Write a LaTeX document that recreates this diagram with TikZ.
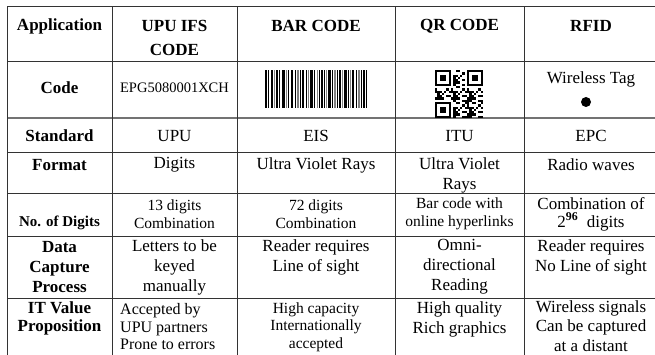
\documentclass[tikz,border=0pt]{standalone}
\usepackage{fontspec}
\setmainfont{Liberation Serif}
\usetikzlibrary{positioning}

\begin{document}
\begin{tikzpicture}[x=1pt, y=-1pt,
    grid/.style={draw=black!80, line width=1pt},
    hd/.style={font=\fontsize{17}{24}\selectfont\bfseries, align=center, inner sep=0pt},
    hdsm/.style={font=\fontsize{15}{18}\selectfont\bfseries, align=center, inner sep=0pt},
    txt/.style={font=\fontsize{17}{20}\selectfont, align=center, inner sep=0pt},
    sml/.style={font=\fontsize{15.5}{17.5}\selectfont, align=center, inner sep=0pt}]
    \useasboundingbox (0,0) rectangle (655,355);

    % table rules
    \foreach \y in {7,62,153,194,236,298} \draw[grid] (7,\y) -- (655,\y);
    \draw[draw=black!55, line width=1.8pt] (7,118) -- (655,118);
    \foreach \x in {7,112,237,395,524} \draw[grid] (\x,7) -- (\x,355);

    % header row
    \node [hd] (app) at (59.5,26) {Application};
    \node [hd] (upu) at (174.5,38) {UPU IFS\\CODE};
    \node [hd] (bar) at (316,26) {BAR CODE};
    \node [hd] (qr) at (459.5,26) {QR CODE};
    \node [hd] (rfid) at (591,26) {RFID};

    % code row
    \node [hd] (code) at (59.5,88) {Code};
    \node [txt, font=\fontsize{14.5}{17}\selectfont] (epg) at (174.5,88) {EPG5080001XCH};
    \begin{scope}[shift={(265pt,-70pt)}]
        \foreach \x/\w/\c in {0/1.5/black,3/1/black,5.5/2/black,9/1/gray,11/1.5/black,14/1/black,17/2.5/black,21/1/gray,23/1/black,26/2/black,29.5/1/black,32/1.5/gray,35/1/black,37/2/black,40.5/1/black,43/1/gray,45/2.5/black,49/1/black,51.5/1.5/gray,54/1/black,56/2/black,59/1/black,61/1/gray,63/3/black,67/1/black,69/1.5/gray,72/1/black,74/2/black,77/1/gray,79/2.5/black,83/1/black,85/1/gray,87/2/black,90.5/1/black,93/1.5/gray,96/1/black,98/2/black,101/1/black}
            \fill [\c] (\x,0) rectangle ++(\w,38);
    \end{scope}
    \begin{scope}[shift={(435pt,-70pt)}, x=2.2857pt, y=-2.2857pt]
        \foreach \i in {0,...,20}{
            \foreach \j in {0,...,20}{
                \pgfmathtruncatemacro\infind{or(and(\i<8,\j<8), or(and(\i>12,\j<8), and(\i<8,\j>12)))}
                \pgfmathtruncatemacro\ison{mod(\i*\i*3+\j*7+\i*\j*5+\j*\j*2+\i,7)<3}
                \ifnum\infind=0 \ifnum\ison=1 \fill (\i,\j) rectangle ++(1,1); \fi\fi
            }
        }
        \foreach \a/\b in {0/0,14/0,0/14}{
            \fill (\a,\b) rectangle ++(7,7);
            \fill [white] (\a+1,\b+1) rectangle ++(5,5);
            \fill (\a+2,\b+2) rectangle ++(3,3);
        }
    \end{scope}
    \node [txt] (tag) at (591,79) {Wireless Tag};
    \node [circle, fill=black, inner sep=0pt, minimum size=10pt] (tagdot) at (586,102) {};

    % standard row
    \node [hd] (std) at (59.5,136) {Standard};
    \node [txt] (stdupu) at (174.5,136) {UPU};
    \node [txt] (stdbar) at (316,136) {EIS};
    \node [txt] (stdqr) at (459.5,136) {ITU};
    \node [txt] (stdrfid) at (591,136) {EPC};

    % format row
    \node [hd] (fmt) at (59.5,165) {Format};
    \node [txt] (fmtupu) at (174.5,165) {Digits};
    \node [txt] (fmtbar) at (316,165) {Ultra Violet Rays};
    \node [txt] (fmtqr) at (459.5,175) {Ultra Violet\\Rays};
    \node [txt] (fmtrfid) at (591,165) {Radio waves};

    % digits row
    \node [hdsm] (dig) at (59.5,223) {No. of Digits};
    \node [sml] (digupu) at (174.5,214) {13 digits\\Combination};
    \node [sml] (digbar) at (316,214) {72 digits\\Combination};
    \node [sml] (digqr) at (459.5,214) {Bar code with\\online hyperlinks};
    \node [txt, font=\fontsize{17}{18}\selectfont] (digrfid) at (591,214) {Combination of\\2\textsuperscript{\bfseries 96}\ \ digits};

    % data capture row
    \node [hd, font=\fontsize{17}{20}\selectfont\bfseries] (cap) at (59.5,267) {Data\\Capture\\Process};
    \node [txt] (capupu) at (174.5,267) {Letters to be\\keyed\\manually};
    \node [txt] (capbar) at (316,257) {Reader requires\\Line of sight};
    \node [txt] (capqr) at (459.5,267) {Omni-\\directional\\Reading};
    \node [txt] (caprfid) at (591,257) {Reader requires\\No Line of sight};

    % value row
    \node [hd, font=\fontsize{17}{18}\selectfont\bfseries] (val) at (59.5,318) {IT Value\\Proposition};
    \node [sml, font=\fontsize{16}{17.5}\selectfont, align=left, anchor=west] (valupu) at (120,327) {Accepted by\\UPU partners\\Prone to errors};
    \node [sml] (valbar) at (316,327) {High capacity\\Internationally\\accepted};
    \node [txt] (valqr) at (459.5,319) {High quality\\Rich graphics};
    \node [txt, font=\fontsize{17}{19.5}\selectfont] (valrfid) at (591,326) {Wireless signals\\Can be captured\\at a distant};
\end{tikzpicture}
\end{document}
